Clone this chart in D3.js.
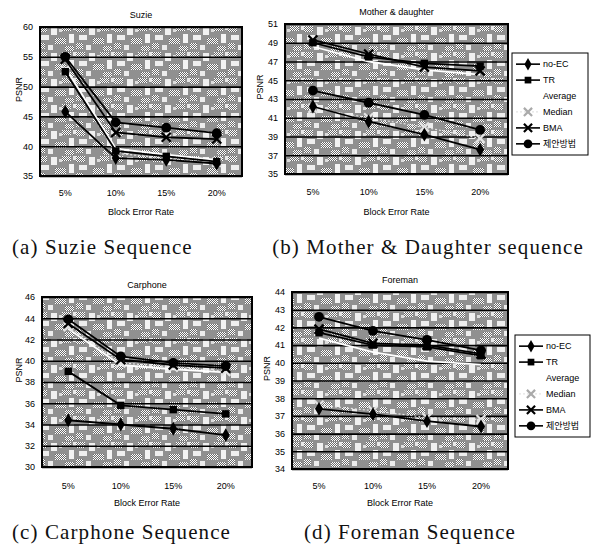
<!DOCTYPE html>
<html>
<head>
<meta charset="utf-8">
<script src="https://cdn.jsdelivr.net/npm/d3@7"></script>
<style>
  body { margin: 0; background: #fff; }
  svg { display: block; }
  .axis text { font-family: "Liberation Sans", Arial, sans-serif; font-size: 9px; fill: #000; }
  .lbl { font-family: "Liberation Sans", Arial, sans-serif; font-size: 9px; fill: #000; }
  .cap { font-family: "Liberation Serif", "DejaVu Serif", serif; font-size: 21px; fill: #111; letter-spacing: 1.1px; }
  .leg { font-family: "Liberation Sans", "Noto Sans CJK KR", sans-serif; font-size: 9px; fill: #000; }
</style>
</head>
<body>
<svg id="chart" width="593" height="546"></svg>
<script>
const categories = ["5%", "10%", "15%", "20%"];
const seriesNames = ["no-EC", "TR", "Average", "Median", "BMA", "제안방법"];

// PSNR values, one row per series in seriesNames order
const suzieValues = [
  [45.8, 38.0, 37.7, 37.1],
  [52.5, 39.2, 38.3, 37.4],
  [53.2, 39.6, 38.6, 37.7],
  [52.8, 38.8, 38.0, 37.3],
  [54.6, 42.3, 41.5, 41.2],
  [55.0, 44.0, 43.1, 42.2]
];
const motherValues = [
  [42.2, 40.6, 39.2, 37.6],
  [49.0, 47.5, 46.8, 46.5],
  [48.6, 47.0, 46.1, 45.6],
  [42.0, 41.0, 40.0, 38.8],
  [49.3, 47.8, 46.4, 46.0],
  [43.9, 42.6, 41.3, 39.7]
];
const carphoneValues = [
  [34.4, 34.0, 33.6, 33.0],
  [39.0, 35.8, 35.4, 35.0],
  [43.0, 39.6, 39.2, 38.9],
  [43.2, 39.8, 39.4, 39.0],
  [43.5, 40.1, 39.6, 39.3],
  [43.9, 40.4, 39.8, 39.5]
];
const foremanValues = [
  [37.4, 37.1, 36.7, 36.4],
  [41.7, 41.0, 40.9, 40.4],
  [41.4, 40.6, 40.1, 39.9],
  [37.6, 37.3, 36.9, 36.8],
  [41.9, 41.1, 41.0, 40.5],
  [42.6, 41.8, 41.3, 40.7]
];

const suzieTicks = [35, 40, 45, 50, 55, 60];
const motherTicks = [35, 37, 39, 41, 43, 45, 47, 49, 51];
const carphoneTicks = [30, 32, 34, 36, 38, 40, 42, 44, 46];
const foremanTicks = [34, 35, 36, 37, 38, 39, 40, 41, 42, 43, 44];

const titles = ["Suzie", "Mother & daughter", "Carphone", "Foreman"];
const captions = ["(a) Suzie Sequence", "(b) Mother & Daughter sequence",
                  "(c) Carphone Sequence", "(d) Foreman Sequence"];

// line / marker look per series
const seriesStyle = [
  { stroke: "#000", dash: null, marker: "diamond", fill: "#000" },
  { stroke: "#000", dash: null, marker: "square", fill: "#000" },
  { stroke: "#fff", dash: null, marker: null, fill: "#fff" },
  { stroke: "#e4e4e4", dash: "2,2", marker: "cross", fill: "#e4e4e4" },
  { stroke: "#000", dash: null, marker: "cross", fill: "#000" },
  { stroke: "#000", dash: null, marker: "circle", fill: "#000" }
];

const svg = d3.select("#chart");
const defs = svg.append("defs");

// scanned Excel gray pattern, approximated
const dots = defs.append("pattern").attr("id", "dots")
  .attr("width", 2).attr("height", 2).attr("patternUnits", "userSpaceOnUse");
dots.append("rect").attr("width", 2).attr("height", 2).attr("fill", "#6a6a6a");
dots.append("rect").attr("width", 1).attr("height", 1).attr("fill", "#fff");
dots.append("rect").attr("x", 1).attr("y", 1).attr("width", 1).attr("height", 1).attr("fill", "#fff");

const tex = defs.append("pattern").attr("id", "tex")
  .attr("width", 38).attr("height", 26).attr("patternUnits", "userSpaceOnUse");
tex.append("rect").attr("width", 38).attr("height", 26).attr("fill", "#909090");
[[0, 0, 9, 6, "url(#dots)"], [13, 1, 6, 8, "#f0f0f0"], [24, 0, 9, 5, "url(#dots)"],
 [3, 9, 8, 5, "#eeeeee"], [17, 12, 11, 6, "url(#dots)"], [31, 8, 5, 9, "#f3f3f3"],
 [0, 17, 7, 6, "url(#dots)"], [10, 19, 5, 5, "#ececec"], [27, 20, 9, 5, "url(#dots)"],
 [21, 3, 3, 3, "#dcdcdc"], [35, 0, 3, 4, "#e8e8e8"]]
  .forEach(r => tex.append("rect").attr("x", r[0]).attr("y", r[1])
    .attr("width", r[2]).attr("height", r[3]).attr("fill", r[4]));

const symbolOf = {
  diamond: d3.symbolDiamond,
  square: d3.symbolSquare,
  cross: d3.symbolX,
  circle: d3.symbolCircle
};

function drawMarker(g, kind, fill, cx, cy, size) {
  if (!kind) return;
  const p = g.append("path")
    .attr("d", d3.symbol(symbolOf[kind], size)())
    .attr("transform", `translate(${cx},${cy})`);
  if (kind === "cross") {
    p.attr("fill", "none").attr("stroke", fill).attr("stroke-width", 2.2);
  } else {
    p.attr("fill", fill);
  }
}

function drawPanel(cfg) {
  const { box } = cfg;
  const g = svg.append("g");

  const x = d3.scaleBand().domain(categories).range([box.x0, box.x1]);
  const y = d3.scaleLinear()
    .domain([cfg.ticks[0], cfg.ticks[cfg.ticks.length - 1]])
    .range([box.y1, box.y0]);

  g.append("rect")
    .attr("x", box.x0).attr("y", box.y0)
    .attr("width", box.x1 - box.x0).attr("height", box.y1 - box.y0)
    .attr("fill", "url(#tex)");

  const yAxis = g.append("g").attr("class", "axis")
    .attr("transform", `translate(${box.x0},0)`)
    .call(d3.axisLeft(y).tickValues(cfg.ticks).tickSize(-(box.x1 - box.x0)).tickPadding(7));
  yAxis.select(".domain").remove();
  yAxis.selectAll("line").attr("stroke", "#000").attr("stroke-width", 1.6);

  const xAxis = g.append("g").attr("class", "axis")
    .attr("transform", `translate(0,${box.y1})`)
    .call(d3.axisBottom(x).tickSize(0).tickPadding(cfg.xPad));
  xAxis.select(".domain").remove();

  g.append("rect")
    .attr("x", box.x0).attr("y", box.y0)
    .attr("width", box.x1 - box.x0).attr("height", box.y1 - box.y0)
    .attr("fill", "none").attr("stroke", "#000").attr("stroke-width", 2);

  const cx = c => x(c) + x.bandwidth() / 2;
  const line = d3.line().x((d, i) => cx(categories[i])).y(d => y(d));

  // draw light series first so the black ones sit on top
  const order = [2, 3, 0, 1, 4, 5];
  order.forEach(si => {
    const st = seriesStyle[si];
    g.append("path")
      .datum(cfg.values[si])
      .attr("d", line)
      .attr("fill", "none")
      .attr("stroke", st.stroke)
      .attr("stroke-width", si === 3 ? 1.2 : 1.8)
      .attr("stroke-dasharray", st.dash);
    cfg.values[si].forEach((v, i) =>
      drawMarker(g, st.marker, st.fill, cx(categories[i]), y(v), si === 5 ? 75 : 55));
  });

  g.append("text").attr("class", "lbl")
    .attr("x", (box.x0 + box.x1) / 2).attr("y", box.y0 - 9)
    .attr("text-anchor", "middle").text(cfg.title);

  g.append("text").attr("class", "lbl")
    .attr("transform", `translate(${cfg.psnrX},${(box.y0 + box.y1) / 2 - 12}) rotate(-90)`)
    .attr("text-anchor", "middle").text("PSNR");

  g.append("text").attr("class", "lbl")
    .attr("x", (box.x0 + box.x1) / 2).attr("y", cfg.berY)
    .attr("text-anchor", "middle").text("Block Error Rate");

  g.append("text").attr("class", "cap")
    .attr("x", cfg.capX).attr("y", cfg.capY)
    .attr("text-anchor", cfg.capAnchor)
    .text(cfg.caption);

  if (cfg.legend) {
    const L = cfg.legend;
    const lg = svg.append("g");
    lg.append("rect")
      .attr("x", L.x0).attr("y", L.y0)
      .attr("width", L.x1 - L.x0).attr("height", L.y1 - L.y0)
      .attr("fill", "#fff").attr("stroke", "#000").attr("stroke-width", 1);
    const step = (L.y1 - L.y0) / (seriesNames.length + 0.4);
    seriesNames.forEach((name, si) => {
      const st = seriesStyle[si];
      const ly = L.y0 + step * (si + 0.7);
      lg.append("line")
        .attr("x1", L.x0 + 4).attr("x2", L.x0 + 28)
        .attr("y1", ly).attr("y2", ly)
        .attr("stroke", st.stroke === "#fff" ? "none" : st.stroke)
        .attr("stroke-width", si === 3 ? 1.2 : 1.6)
        .attr("stroke-dasharray", st.dash);
      drawMarker(lg, st.marker, st.fill === "#e4e4e4" ? "#aaa" : st.fill, L.x0 + 16, ly, si === 5 ? 60 : 45);
      lg.append("text").attr("class", "leg")
        .attr("x", L.x0 + 31).attr("y", ly).attr("dy", "0.35em")
        .text(name);
    });
  }
}

drawPanel({
  title: titles[0], caption: captions[0], ticks: suzieTicks, values: suzieValues,
  box: { x0: 40, x1: 242, y0: 27, y1: 176 },
  psnrX: 22, xPad: 14, berY: 215, capX: 12, capY: 254, capAnchor: "start"
});
drawPanel({
  title: titles[1], caption: captions[1], ticks: motherTicks, values: motherValues,
  box: { x0: 285, x1: 508, y0: 24, y1: 174 },
  psnrX: 263, xPad: 15, berY: 215, capX: 428, capY: 254, capAnchor: "middle",
  legend: { x0: 512, x1: 588, y0: 53, y1: 155 }
});
drawPanel({
  title: titles[2], caption: captions[2], ticks: carphoneTicks, values: carphoneValues,
  box: { x0: 42, x1: 252, y0: 297, y1: 467 },
  psnrX: 22, xPad: 16, berY: 506, capX: 12, capY: 539, capAnchor: "start"
});
drawPanel({
  title: titles[3], caption: captions[3], ticks: foremanTicks, values: foremanValues,
  box: { x0: 292, x1: 508, y0: 292, y1: 469 },
  psnrX: 270, xPad: 14, berY: 506, capX: 410, capY: 539, capAnchor: "middle",
  legend: { x0: 515, x1: 590, y0: 335, y1: 437 }
});
</script>
</body>
</html>
